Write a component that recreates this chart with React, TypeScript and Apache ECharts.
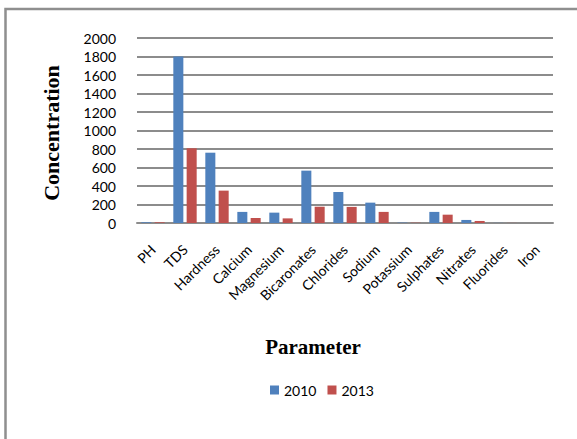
import React, { useEffect, useRef } from "react";
import * as echarts from "echarts";

// Water quality parameters and their measured concentrations
const categories = [
  "PH", "TDS", "Hardness", "Calcium", "Magnesium", "Bicaronates", "Chlorides",
  "Sodium", "Potassium", "Sulphates", "Nitrates", "Fluorides", "Iron",
];
const values2010 = [7.6, 1800, 760, 120, 112, 566, 335, 220, 4, 120, 33, 1.2, 0.3];
const values2013 = [7.4, 808, 350, 54, 50, 176, 174, 120, 3, 90, 22, 0.9, 0.2];
const seriesNames = ["2010", "2013"];
const yTicks = { min: 0, max: 2000, interval: 200 };

const labelFont = "Lato, 'Open Sans', sans-serif";
const titleFont = "'Liberation Serif', 'DejaVu Serif', serif";

export default function App() {
  const ref = useRef<HTMLDivElement>(null);

  useEffect(() => {
    document.body.style.margin = "0";
    if (!ref.current) return;
    const chart = echarts.init(ref.current, undefined, { renderer: "svg" });
    chart.setOption({
      animation: false,
      backgroundColor: "#ffffff",
      grid: { left: 137, right: 24, top: 38, bottom: 216, containLabel: false },
      legend: {
        data: seriesNames,
        left: 270,
        top: 383,
        padding: 0,
        icon: "rect",
        itemWidth: 9,
        itemHeight: 9,
        itemGap: 11,
        textStyle: { fontFamily: labelFont, fontSize: 14, color: "#000" },
      },
      xAxis: {
        type: "category",
        data: categories,
        axisLine: { show: true, lineStyle: { color: "#8c8c8c", width: 2 } },
        axisTick: { show: false },
        axisLabel: {
          interval: 0,
          rotate: 45,
          margin: 24,
          fontFamily: labelFont,
          fontSize: 14,
          color: "#000",
        },
      },
      yAxis: {
        type: "value",
        min: yTicks.min,
        max: yTicks.max,
        interval: yTicks.interval,
        axisLine: { show: false },
        axisTick: { show: false },
        axisLabel: {
          margin: 21,
          fontFamily: labelFont,
          fontSize: 14,
          color: "#000",
          formatter: (v: number) => String(v),
        },
        splitLine: {
          show: true,
          lineStyle: { color: "#8c8c8c", width: 2 },
        },
      },
      series: [
        {
          name: seriesNames[0],
          type: "bar",
          data: values2010,
          barCategoryGap: "27%",
          barGap: "33%",
          itemStyle: { color: "#4F81BD" },
        },
        {
          name: seriesNames[1],
          type: "bar",
          data: values2013,
          barCategoryGap: "27%",
          barGap: "33%",
          itemStyle: { color: "#C0504D" },
        },
      ],
      graphic: [
        {
          type: "rect",
          shape: { x: 5.5, y: 9, width: 640, height: 520 },
          style: { fill: "none", stroke: "#8f8f8f", lineWidth: 2.5 },
          silent: true,
        },
        {
          type: "text",
          x: 51,
          y: 133,
          rotation: Math.PI / 2,
          style: {
            text: "Concentration",
            fontFamily: titleFont,
            fontWeight: "bold",
            fontSize: 22,
            fill: "#000",
            textAlign: "center",
            textVerticalAlign: "middle",
          },
        },
        {
          type: "text",
          x: 313,
          y: 347,
          style: {
            text: "Parameter",
            fontFamily: titleFont,
            fontWeight: "bold",
            fontSize: 21,
            fill: "#000",
            textAlign: "center",
            textVerticalAlign: "middle",
          },
        },
      ],
    });
    return () => chart.dispose();
  }, []);

  return <div ref={ref} style={{ width: 577, height: 439 }} />;
}
